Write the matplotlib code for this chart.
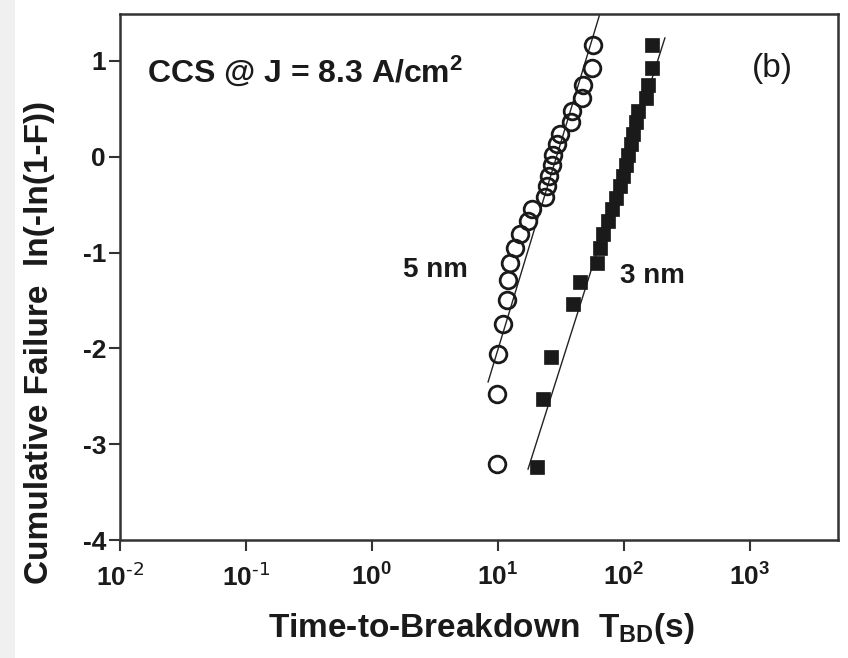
import matplotlib
matplotlib.use("Agg")
import matplotlib.pyplot as plt
from matplotlib.patches import Rectangle
from matplotlib.ticker import FixedLocator, NullLocator

plt.rcParams['font.family'] = ['Liberation Sans', 'DejaVu Sans']
plt.rcParams['mathtext.default'] = 'regular'

# Weibull plot data: time-to-breakdown (s) and ln(-ln(1-F))
t_5nm = [9.9, 9.9, 10.0, 11.0, 11.7, 11.9, 12.4, 13.6, 15.0, 17.3, 18.6, 23.6,
         24.3, 25.5, 26.7, 27.3, 29.4, 31.0, 37.6, 38.6, 46.0, 47.3, 56.0, 56.8]
w_5nm = [-3.21, -2.48, -2.06, -1.75, -1.50, -1.29, -1.11, -0.95, -0.81, -0.67,
         -0.55, -0.42, -0.31, -0.20, -0.09, 0.02, 0.13, 0.24, 0.36, 0.48,
         0.61, 0.75, 0.93, 1.17]

t_3nm = [20.4, 22.7, 26.4, 39.4, 44.7, 61.0, 64.5, 68.0, 75.0, 80.0, 86.0,
         93.0, 98.0, 104.0, 108.0, 114.0, 118.0, 124.0, 129.0, 150.0, 155.0,
         167.0, 167.0]
w_3nm = [-3.24, -2.53, -2.09, -1.54, -1.31, -1.11, -0.95, -0.81, -0.67, -0.55,
         -0.43, -0.31, -0.20, -0.09, 0.02, 0.13, 0.24, 0.36, 0.48, 0.61, 0.75,
         0.93, 1.17]

# Fitted Weibull lines (end points)
fit_5nm_t = [8.34, 64.6]
fit_5nm_w = [-2.35, 1.50]
fit_3nm_t = [17.3, 211.0]
fit_3nm_w = [-3.26, 1.24]

x_ticks = [1e-2, 1e-1, 1e0, 1e1, 1e2, 1e3]
x_ticklabels = [r'$10^{\text{-2}}$', r'$10^{\text{-1}}$', r'$10^{0}$',
                r'$10^{1}$', r'$10^{2}$', r'$10^{3}$']
y_ticks = [-4, -3, -2, -1, 0, 1]
y_ticklabels = ['-4', '-3', '-2', '-1', '0', '1']

fig = plt.figure(figsize=(8.48, 6.58), dpi=100)
fig.patches.append(Rectangle((0, 0), 15 / 848, 1, transform=fig.transFigure,
                             facecolor='#f0f0f0', edgecolor='none', zorder=-10))

ax = fig.add_axes([120 / 848, 1 - 540 / 658, 718 / 848, 526 / 658])
ax.set_xscale('log')
ax.set_xlim(1e-2, 10 ** 3.698)
ax.set_ylim(-4, 1.49)

ax.plot(fit_5nm_t, fit_5nm_w, color='#222222', lw=1.0, zorder=2)
ax.plot(fit_3nm_t, fit_3nm_w, color='#222222', lw=1.0, zorder=2)
ax.plot(t_5nm, w_5nm, linestyle='none', marker='o', ms=12, mfc='none',
        mec='#1a1a1a', mew=2.0, zorder=3)
ax.plot(t_3nm, w_3nm, linestyle='none', marker='s', ms=10, mfc='#1a1a1a',
        mec='#1a1a1a', mew=0.5, zorder=3)

ax.xaxis.set_major_locator(FixedLocator(x_ticks))
ax.xaxis.set_minor_locator(NullLocator())
ax.set_xticklabels(x_ticklabels)
ax.set_yticks(y_ticks)
ax.set_yticklabels(y_ticklabels)

ax.tick_params(axis='both', which='major', direction='out', length=8,
               width=1.5, color='#333333', labelcolor='#1a1a1a')
ax.tick_params(axis='x', pad=9, labelsize=19)
ax.tick_params(axis='y', pad=2, labelsize=19)
for lab in ax.get_xticklabels() + ax.get_yticklabels():
    lab.set_fontweight('bold')

for sp in ax.spines.values():
    sp.set_linewidth(1.8)
    sp.set_color('#333333')

ax.text(0.038, 0.89, 'CCS @ J = 8.3 A/cm$^2$', transform=ax.transAxes,
        fontsize=23, fontweight='bold', color='#1a1a1a', va='center', ha='left')
ax.text(0.908, 0.897, '(b)', transform=ax.transAxes, fontsize=24,
        color='#1a1a1a', va='center', ha='center')
ax.text(3.2, -1.18, '5 nm', fontsize=20, fontweight='bold', color='#1a1a1a',
        va='center', ha='center')
ax.text(167, -1.24, '3 nm', fontsize=20, fontweight='bold', color='#1a1a1a',
        va='center', ha='center')

fig.text(481 / 848, 1 - 628 / 658, 'Time-to-Breakdown  T$_{BD}$(s)',
         fontsize=24, fontweight='bold', color='#1a1a1a', ha='center', va='center')
fig.text(40 / 848, 1 - 342 / 658, 'Cumulative Failure  ln(-ln(1-F))',
         fontsize=24, fontweight='bold', color='#1a1a1a', ha='center', va='center',
         rotation=90)

fig.savefig('out.png', dpi=100)
